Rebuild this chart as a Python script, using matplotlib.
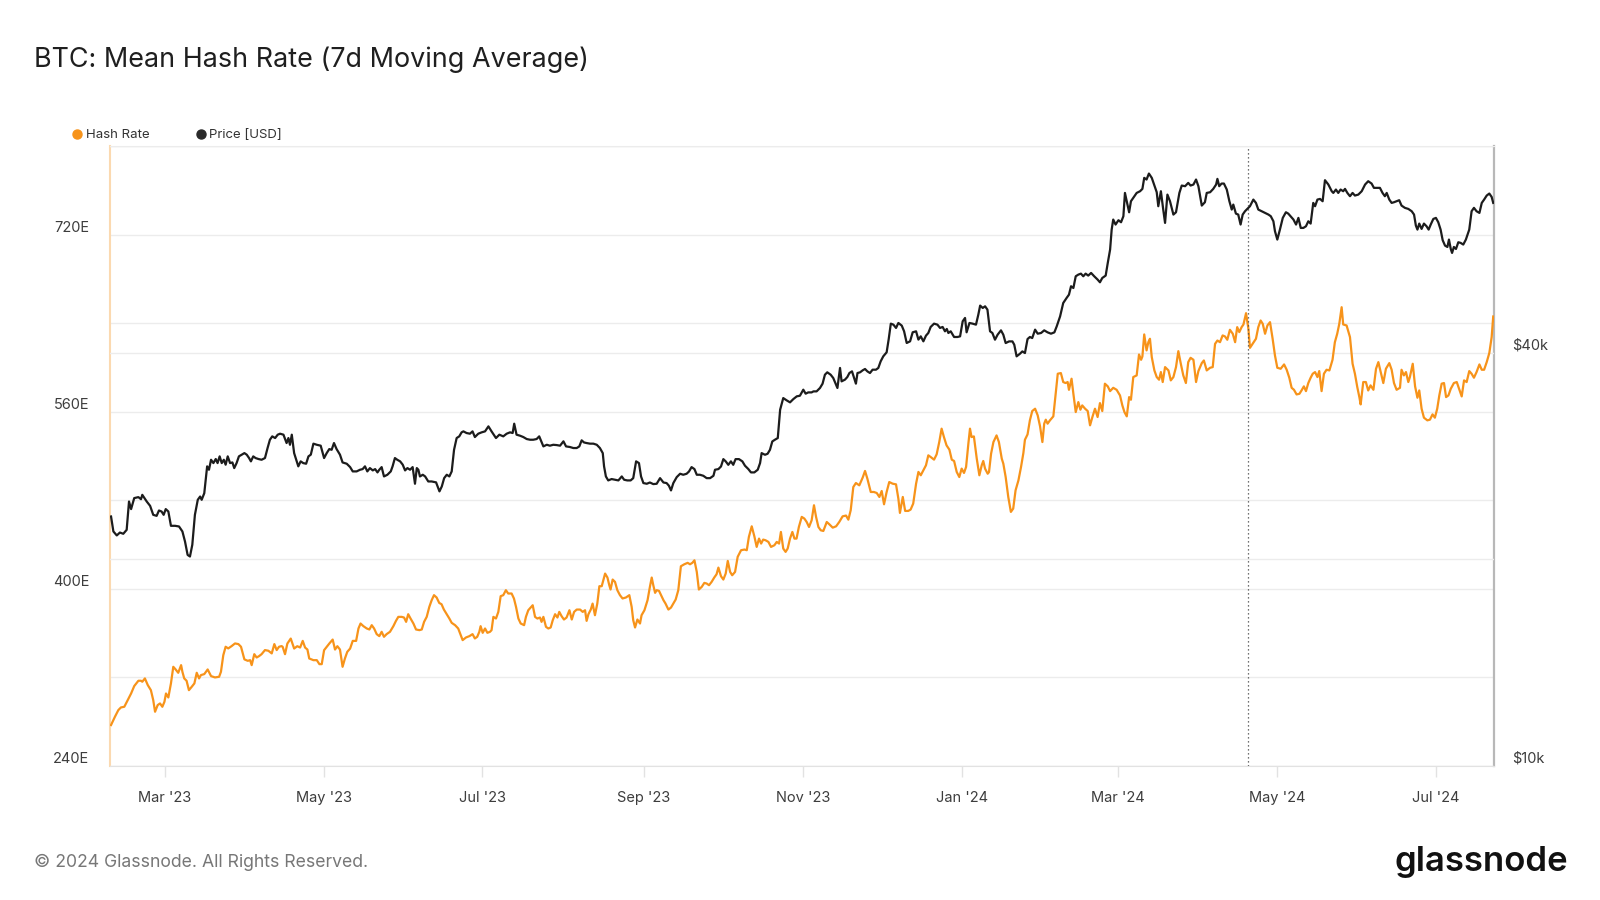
import matplotlib
matplotlib.use("Agg")
import matplotlib.pyplot as plt
from matplotlib.lines import Line2D
import pandas as pd
import numpy as np

plt.rcParams['font.family'] = ['Inter', 'DejaVu Sans']

# ---------------- data ----------------
start_date = pd.Timestamp('2023-02-08')
end_offset = 531.4          # days shown after start_date
halving_date = '2024-04-20'

# Hash rate, 7d MA (EH/s) : day offset from start_date, value
hash_day = [
    0.4, 1.9, 3.2, 4.2, 5.5, 6.8, 8.1, 9.3, 10.9, 11.9, 12.4, 13.4, 14.5, 15.7, 16.6, 17.3, 18.3, 19.2, 20.1, 20.9,
    21.5, 22.4, 23.4, 24.3, 25.2, 26.2, 27.3, 27.8, 28.5, 29.4, 30.3, 31.4, 32.4, 33.3, 34.2, 34.9, 36.2, 37.5, 38.8, 40.3,
    41.9, 42.6, 43.5, 44.4, 45.4, 46.7, 48.0, 49.3, 50.3, 51.6, 52.9, 53.8, 54.4, 55.4, 56.3, 57.2, 58.2, 59.5, 60.8, 62.1,
    63.1, 64.0, 64.9, 65.9, 66.3, 67.2, 68.1, 69.4, 70.7, 71.9, 73.0, 74.0, 74.9, 75.8, 76.5, 78.1, 79.4, 80.4, 81.3, 82.2,
    83.2, 84.2, 85.5, 86.4, 87.3, 88.3, 89.3, 90.2, 91.1, 92.2, 93.2, 94.5, 95.4, 96.2, 97.3, 98.6, 99.6, 100.5, 101.4, 102.4,
    103.4, 104.3, 105.2, 106.2, 107.5, 108.8, 109.8, 110.7, 112.0, 112.9, 113.7, 114.5, 115.4, 116.5, 117.5, 118.8, 119.7, 120.6, 121.6, 122.6,
    123.5, 124.4, 125.4, 126.4, 127.3, 128.2, 129.3, 130.3, 131.2, 132.5, 133.7, 135.4, 136.7, 138.0, 139.2, 140.1, 141.0, 141.8, 142.3, 143.1,
    144.0, 144.9, 145.9, 146.5, 147.2, 148.2, 149.1, 150.0, 151.0, 152.0, 152.9, 154.2, 155.1, 155.9, 156.8, 157.7, 159.0, 159.7, 160.6, 161.5,
    162.3, 163.2, 164.1, 165.1, 165.7, 166.4, 167.4, 168.3, 169.2, 170.0, 170.9, 171.8, 172.5, 173.4, 174.3, 175.3, 176.4, 177.3, 178.2, 179.2,
    180.5, 181.5, 182.4, 183.0, 183.7, 184.6, 185.3, 186.2, 187.1, 187.9, 188.8, 189.4, 190.1, 191.0, 191.7, 192.2, 193.0, 193.9, 194.8, 195.8,
    196.8, 198.1, 199.4, 200.3, 200.9, 201.6, 202.5, 203.5, 204.1, 205.2, 206.4, 207.3, 208.0, 208.6, 209.3, 209.9, 210.8, 211.6, 212.5, 213.3,
    214.4, 215.4, 216.3, 217.2, 218.2, 219.2, 220.5, 221.8, 222.7, 223.6, 224.4, 225.3, 226.1, 227.2, 228.2, 229.1, 230.0, 231.0, 232.0, 232.9,
    233.6, 234.6, 235.5, 236.4, 237.2, 238.1, 238.9, 240.0, 241.0, 242.3, 243.6, 244.5, 245.3, 246.4, 247.4, 248.3, 249.2, 250.0, 250.8, 251.7,
    252.8, 253.8, 255.1, 256.0, 256.9, 257.6, 258.5, 259.4, 260.2, 261.1, 262.0, 262.8, 263.6, 264.5, 265.6, 266.6, 267.5, 268.4, 269.4, 270.3,
    271.1, 272.0, 272.9, 273.9, 275.2, 276.2, 277.5, 278.8, 280.0, 281.3, 282.6, 283.5, 284.4, 285.4, 286.4, 287.7, 289.0, 289.9, 290.8, 292.1,
    293.3, 294.4, 295.4, 296.3, 297.2, 298.2, 299.2, 300.5, 301.8, 302.7, 303.3, 304.4, 305.3, 306.5, 307.4, 308.4, 309.5, 310.4, 311.3, 312.3,
    313.3, 314.2, 315.1, 316.4, 317.4, 318.4, 319.3, 320.2, 321.2, 322.3, 323.2, 324.1, 325.1, 326.1, 327.0, 327.9, 328.7, 329.6, 330.2, 330.8,
    331.7, 332.8, 333.8, 334.7, 335.3, 336.0, 337.0, 337.5, 338.3, 339.2, 340.4, 341.3, 342.4, 343.0, 343.9, 344.9, 345.9, 346.8, 347.7, 348.8,
    349.8, 350.7, 351.3, 352.3, 353.2, 354.1, 355.2, 356.2, 357.1, 358.0, 358.7, 359.3, 360.0, 360.9, 362.2, 363.1, 363.9, 365.1, 366.0, 366.9,
    367.7, 368.2, 369.2, 369.9, 370.8, 371.8, 372.6, 373.3, 374.4, 375.4, 376.3, 377.2, 378.2, 379.2, 380.1, 381.0, 382.0, 383.1, 384.0, 385.2,
    386.5, 387.8, 388.7, 389.5, 390.4, 391.3, 392.0, 392.9, 394.2, 395.1, 395.9, 396.4, 397.1, 398.0, 398.7, 399.3, 400.0, 401.0, 401.9, 402.8,
    403.5, 404.2, 405.1, 406.4, 407.3, 408.3, 409.3, 410.2, 411.1, 412.1, 413.1, 414.0, 414.9, 416.0, 417.0, 417.9, 419.2, 420.0, 421.1, 422.4,
    423.4, 424.3, 425.2, 426.2, 427.2, 428.1, 429.0, 430.0, 431.1, 432.0, 432.8, 433.6, 434.5, 435.2, 436.2, 437.1, 437.7, 438.7, 440.0, 440.9,
    441.8, 442.6, 443.5, 444.4, 445.4, 446.4, 447.3, 448.2, 449.5, 450.8, 451.8, 452.8, 453.7, 454.6, 455.6, 456.7, 457.5, 458.4, 459.2, 460.1,
    461.0, 461.8, 462.7, 463.6, 464.3, 465.2, 466.1, 467.1, 468.2, 469.4, 470.3, 471.2, 472.0, 472.9, 473.5, 474.8, 476.1, 477.1, 478.0, 478.9,
    479.7, 480.2, 481.2, 482.2, 483.1, 484.0, 485.1, 486.1, 487.0, 487.9, 488.9, 489.9, 491.2, 492.1, 493.0, 494.0, 495.3, 495.9, 496.8, 497.6,
    498.5, 499.1, 500.2, 501.1, 502.0, 502.7, 503.6, 504.5, 505.8, 506.8, 507.8, 508.7, 509.6, 510.4, 511.3, 512.2, 513.0, 513.9, 514.8, 516.0,
    517.1, 518.1, 519.0, 519.9, 520.9, 521.9, 522.8, 523.7, 524.7, 525.8, 526.7, 527.6, 528.6, 529.6, 530.5, 531.1,
]
hash_ehs = [
    277.0, 284.5, 290.5, 292.9, 293.5, 299.5, 305.5, 312.2, 317.0, 317.0, 316.1, 319.1, 313.1, 308.5, 299.5, 289.0, 295.0, 296.5, 293.5, 298.0,
    305.5, 301.9, 314.6, 329.6, 327.2, 324.2, 331.1, 325.1, 319.1, 317.0, 308.5, 311.6, 314.6, 324.2, 319.1, 322.1, 323.0, 327.2, 321.2, 320.0,
    320.6, 325.1, 340.1, 347.7, 346.2, 348.3, 350.7, 350.1, 347.7, 336.3, 335.0, 335.6, 331.1, 341.0, 338.0, 339.2, 341.0, 344.7, 344.1, 341.7,
    350.1, 344.7, 347.7, 348.3, 347.6, 341.0, 350.6, 355.1, 346.1, 348.2, 347.0, 353.0, 347.0, 345.2, 337.1, 335.6, 335.6, 332.0, 332.0, 344.6,
    347.6, 350.6, 354.2, 345.2, 348.2, 345.2, 329.6, 337.1, 343.1, 346.1, 353.0, 353.0, 364.2, 368.7, 366.3, 364.2, 363.3, 367.2, 364.2, 359.1,
    357.3, 361.2, 356.7, 359.1, 361.2, 366.3, 371.1, 374.7, 374.7, 374.1, 370.2, 377.1, 373.2, 368.7, 363.3, 362.7, 363.3, 370.2, 374.7, 383.7,
    389.7, 394.3, 392.2, 387.3, 386.1, 381.3, 377.1, 373.2, 369.3, 367.2, 364.2, 353.7, 356.1, 357.3, 359.1, 355.2, 356.7, 361.2, 366.3, 360.3,
    364.2, 360.3, 361.2, 362.7, 374.7, 373.2, 379.2, 393.4, 394.3, 398.8, 395.8, 395.8, 391.3, 383.7, 373.2, 368.7, 367.2, 374.7, 380.7, 383.1,
    385.2, 374.7, 373.2, 374.1, 370.2, 374.7, 365.7, 364.2, 365.1, 371.7, 377.1, 374.1, 379.2, 375.3, 372.3, 374.1, 380.7, 372.3, 379.2, 381.3,
    381.3, 379.2, 380.7, 371.1, 377.1, 381.3, 386.7, 376.2, 386.7, 402.4, 402.4, 407.8, 413.8, 410.2, 403.3, 399.4, 408.4, 406.3, 398.8, 394.3,
    391.3, 392.2, 394.3, 383.7, 371.7, 365.1, 372.3, 368.7, 376.2, 380.7, 389.8, 401.8, 410.2, 403.3, 396.4, 398.8, 398.2, 394.3, 389.8, 386.7,
    381.3, 383.1, 386.7, 390.4, 398.8, 420.4, 422.2, 423.5, 422.2, 423.5, 425.8, 415.3, 399.4, 401.8, 405.4, 404.8, 403.3, 406.3, 410.2, 413.2,
    419.2, 411.4, 408.4, 413.8, 425.2, 415.3, 412.3, 415.3, 428.9, 434.9, 435.5, 434.9, 446.9, 456.5, 447.5, 437.9, 445.4, 440.9, 444.5, 443.9,
    442.4, 437.9, 439.4, 442.4, 440.9, 451.4, 436.4, 433.4, 436.4, 445.4, 451.4, 445.4, 445.4, 455.9, 465.0, 463.5, 460.4, 455.9, 461.9, 475.5,
    465.0, 455.9, 452.9, 452.3, 460.4, 458.3, 455.3, 456.5, 460.4, 465.5, 466.2, 462.5, 471.0, 492.0, 495.6, 493.5, 500.5, 506.5, 499.5, 487.5,
    487.5, 486.6, 483.0, 488.4, 476.4, 487.5, 496.5, 495.0, 494.4, 481.5, 468.6, 483.0, 470.4, 470.4, 471.6, 477.0, 495.0, 505.6, 502.6, 507.1,
    511.6, 520.6, 519.1, 516.7, 521.5, 532.6, 544.7, 537.1, 529.6, 525.7, 516.7, 515.5, 505.6, 501.0, 508.6, 504.7, 510.1, 531.7, 544.7, 537.1,
    537.7, 517.6, 502.6, 511.6, 515.5, 508.5, 504.0, 505.5, 522.1, 532.6, 538.6, 532.6, 517.6, 513.1, 501.0, 483.0, 469.5, 472.5, 489.0, 498.0,
    510.1, 522.7, 534.7, 539.5, 552.2, 560.6, 562.7, 556.7, 546.8, 532.6, 549.2, 552.8, 549.2, 552.2, 555.8, 576.2, 594.3, 594.9, 586.8, 585.9,
    586.8, 579.8, 589.8, 576.2, 559.7, 568.7, 561.8, 565.7, 562.7, 560.6, 547.7, 555.2, 562.7, 555.2, 567.8, 560.6, 585.3, 582.9, 578.6, 581.6,
    579.8, 574.7, 565.7, 559.7, 555.8, 573.2, 570.8, 591.3, 592.8, 611.7, 606.9, 609.9, 629.8, 615.4, 622.9, 625.9, 609.3, 597.3, 591.3, 588.9,
    595.8, 586.8, 600.3, 597.3, 588.3, 591.3, 600.3, 614.7, 603.9, 592.8, 585.9, 604.8, 608.7, 606.9, 586.8, 596.7, 603.9, 606.3, 597.3, 599.7,
    600.3, 621.3, 624.3, 622.8, 628.9, 628.0, 625.0, 634.0, 630.4, 622.8, 636.4, 631.9, 636.4, 638.8, 649.0, 634.9, 617.7, 621.3, 625.9, 636.4,
    642.4, 639.4, 630.4, 637.9, 640.9, 625.9, 610.8, 599.7, 598.8, 602.7, 597.9, 590.7, 581.6, 579.8, 575.6, 576.2, 579.2, 582.9, 578.6, 585.9,
    590.7, 594.3, 595.8, 591.3, 596.7, 578.6, 594.3, 597.9, 597.3, 606.9, 622.8, 630.4, 639.4, 654.4, 638.8, 637.9, 627.4, 603.3, 594.3, 582.3,
    573.2, 566.6, 586.8, 586.8, 579.2, 583.8, 579.8, 598.8, 604.8, 595.8, 585.9, 598.8, 603.9, 597.9, 585.9, 579.8, 581.6, 597.9, 592.8, 595.8,
    586.8, 591.3, 603.3, 582.9, 572.6, 579.2, 562.7, 554.6, 552.2, 552.8, 557.6, 554.6, 562.7, 574.7, 585.3, 585.9, 573.2, 574.7, 580.7, 585.9,
    586.8, 579.8, 573.8, 588.3, 586.8, 596.7, 594.3, 590.7, 595.8, 602.7, 597.9, 597.9, 604.8, 613.0, 627.4, 646.0,
]

# BTC price (USD) : day offset from start_date, value
price_day = [
    0.4, 1.3, 2.6, 3.8, 5.1, 6.4, 7.3, 8.1, 9.3, 10.9, 11.9, 12.4, 14.1, 15.4, 16.6, 17.9, 18.8, 19.8, 20.6, 21.4,
    22.4, 23.4, 25.0, 26.5, 27.8, 28.8, 29.8, 30.7, 31.6, 32.6, 33.7, 34.6, 35.2, 36.2, 37.3, 38.0, 38.8, 39.7, 40.6, 41.3,
    42.1, 42.9, 43.7, 44.4, 45.2, 46.1, 47.0, 47.7, 48.6, 49.5, 50.6, 51.6, 52.5, 53.4, 54.1, 55.0, 55.9, 57.0, 58.2, 59.5,
    60.5, 61.4, 62.3, 63.4, 64.4, 65.3, 66.6, 67.8, 68.5, 69.1, 69.8, 70.7, 72.3, 73.2, 74.2, 75.3, 76.2, 77.1, 78.1, 79.4,
    80.9, 82.2, 83.2, 84.2, 85.1, 86.0, 87.0, 88.3, 89.3, 90.9, 92.2, 93.2, 94.7, 96.0, 97.0, 97.9, 98.8, 99.8, 100.9, 101.8,
    102.7, 103.4, 104.3, 105.2, 106.5, 107.8, 108.5, 109.4, 110.3, 111.4, 112.4, 113.3, 114.2, 115.2, 116.2, 117.1, 117.8, 118.4, 119.0, 120.1,
    121.0, 122.2, 123.5, 125.2, 126.5, 127.4, 128.3, 129.3, 130.3, 131.2, 132.1, 133.1, 134.1, 135.0, 135.7, 136.9, 138.2, 139.2, 140.1, 141.4,
    142.7, 144.0, 145.3, 146.5, 148.2, 149.5, 151.0, 152.3, 153.6, 154.6, 155.2, 156.1, 157.4, 158.7, 160.0, 161.3, 162.5, 163.8, 164.8, 165.6,
    166.4, 167.7, 168.9, 170.2, 171.5, 172.8, 174.1, 175.1, 176.6, 177.9, 179.2, 180.2, 181.1, 182.0, 183.0, 184.3, 185.6, 186.9, 188.1, 189.2,
    189.7, 190.4, 191.3, 192.6, 193.9, 195.2, 196.5, 197.4, 198.6, 199.9, 200.9, 202.0, 203.1, 203.9, 204.8, 206.1, 207.3, 208.6, 209.9, 211.2,
    212.5, 213.7, 214.6, 215.4, 216.3, 217.6, 218.9, 220.1, 221.4, 222.3, 223.3, 224.4, 225.3, 226.5, 227.8, 229.1, 230.4, 231.7, 232.3, 233.6,
    234.6, 235.5, 236.4, 237.4, 238.4, 239.3, 240.2, 241.5, 242.8, 243.8, 245.1, 246.1, 247.4, 248.7, 249.6, 250.2, 251.5, 252.5, 253.4, 254.3,
    255.3, 256.4, 257.3, 258.5, 259.8, 261.1, 262.4, 263.7, 264.9, 266.2, 267.1, 268.1, 269.4, 270.1, 271.3, 272.6, 273.6, 274.5, 275.4, 276.7,
    277.7, 278.8, 279.3, 280.3, 280.9, 282.2, 283.1, 283.9, 284.9, 285.7, 286.4, 287.0, 288.0, 289.0, 289.9, 290.8, 291.8, 292.8, 294.1, 295.0,
    295.9, 296.9, 298.2, 299.0, 299.8, 300.8, 301.8, 302.7, 304.0, 304.9, 305.9, 307.2, 308.2, 309.5, 310.4, 311.3, 312.3, 313.3, 314.2, 315.1,
    316.4, 317.7, 318.7, 319.7, 320.6, 321.3, 321.9, 322.8, 324.1, 325.4, 326.4, 327.4, 328.3, 328.9, 330.0, 331.2, 332.5, 333.4, 334.1, 335.1,
    336.0, 336.9, 337.9, 338.8, 339.8, 340.8, 342.1, 343.0, 343.9, 345.2, 346.5, 347.2, 348.1, 349.4, 350.3, 351.3, 352.3, 353.2, 354.1, 355.2,
    356.2, 357.5, 358.7, 360.0, 361.3, 362.6, 363.5, 364.8, 366.0, 367.3, 368.2, 369.0, 369.9, 370.8, 371.8, 372.8, 373.7, 374.6, 375.6, 376.7,
    377.9, 379.2, 380.1, 381.0, 382.3, 383.1, 384.0, 384.6, 385.2, 386.1, 387.2, 388.2, 389.1, 389.7, 390.4, 391.3, 392.0, 392.9, 394.2, 395.5,
    396.4, 397.1, 398.0, 398.9, 400.0, 401.0, 401.9, 402.5, 403.5, 404.4, 405.1, 406.0, 407.0, 408.3, 409.3, 410.6, 411.5, 412.8, 414.0, 414.9,
    416.0, 417.0, 417.9, 419.2, 420.4, 421.1, 422.4, 423.6, 424.7, 425.2, 425.9, 426.8, 427.7, 428.8, 429.8, 430.7, 431.3, 432.3, 433.2, 434.1,
    434.9, 435.8, 436.7, 437.7, 439.0, 440.0, 440.9, 442.2, 443.5, 444.8, 445.7, 446.7, 447.3, 448.2, 449.2, 450.3, 451.5, 452.4, 453.3, 454.4,
    455.4, 456.3, 457.2, 458.2, 459.2, 460.1, 461.0, 462.0, 462.7, 463.6, 464.6, 465.6, 466.5, 467.8, 469.1, 469.7, 470.7, 471.6, 472.5, 473.5,
    474.2, 475.1, 476.1, 477.1, 478.0, 479.3, 480.6, 481.9, 483.1, 484.4, 485.3, 486.3, 487.6, 488.6, 489.5, 490.2, 491.2, 492.1, 493.0, 494.0,
    495.0, 495.9, 497.2, 498.5, 499.8, 500.7, 501.4, 502.0, 502.7, 503.6, 504.5, 505.5, 506.3, 507.1, 508.1, 509.1, 510.0, 510.9, 511.7, 512.6,
    513.5, 514.1, 514.8, 515.3, 516.0, 516.8, 517.7, 518.6, 519.6, 520.6, 521.9, 522.8, 523.7, 524.7, 525.8, 526.7, 527.6, 528.6, 529.6, 530.5,
    531.1,
]
price_usd = [
    23090, 21960, 21670, 21880, 21790, 22080, 24280, 23670, 24560, 24640, 24470, 24830, 24280, 23930, 23220, 23140, 23560, 23480, 23220, 23670,
    23480, 22380, 22380, 22330, 21960, 21230, 20300, 20190, 21000, 23220, 24420, 24690, 24420, 24970, 27320, 27010, 27930, 27620, 28000, 27620,
    28250, 27620, 27930, 27470, 28250, 27620, 27680, 27160, 27620, 28250, 28410, 28560, 28410, 28090, 27780, 28250, 28090, 28000, 27930, 28090,
    29050, 29870, 30210, 30040, 30380, 30480, 30380, 29540, 30040, 29370, 30380, 28560, 27320, 27780, 27620, 27560, 28250, 28410, 29480, 29370,
    29280, 28090, 28560, 28950, 28880, 29540, 28950, 28410, 27680, 27560, 27250, 26860, 26860, 27010, 27070, 27320, 26860, 27160, 26950, 27070,
    26770, 27010, 27250, 26410, 26560, 26860, 27320, 28090, 27930, 27780, 27470, 26950, 27160, 27010, 27250, 25770, 27160, 27010, 26410, 26560,
    26410, 25970, 25970, 25890, 25120, 25540, 26260, 26560, 26410, 26860, 28880, 30040, 30210, 30620, 30720, 30550, 30480, 30720, 30140, 30480,
    30620, 30720, 31240, 30720, 30040, 30380, 30210, 30480, 30620, 30550, 31520, 30380, 30280, 30140, 29940, 29870, 29870, 29940, 30210, 29710,
    29210, 29370, 29280, 29370, 29340, 29280, 29710, 29210, 29150, 29050, 29050, 29210, 29810, 29600, 29540, 29480, 29480, 29370, 29050, 28560,
    27320, 26410, 26060, 26180, 26120, 26060, 26410, 26120, 26060, 26060, 26260, 27780, 27620, 26410, 25830, 25770, 25880, 25740, 25770, 26260,
    25880, 25830, 25600, 25200, 25830, 26350, 26650, 26560, 26650, 26850, 27250, 27070, 26560, 26560, 26470, 26260, 26260, 26470, 27010, 27070,
    27310, 27990, 27780, 27460, 27780, 27460, 27990, 27990, 27780, 27380, 27070, 26770, 26770, 27010, 27620, 28560, 28400, 28500, 28880, 29700,
    29870, 30040, 33030, 34350, 34090, 33860, 34240, 34550, 34620, 35330, 34860, 35010, 35010, 35130, 35130, 35530, 36050, 37150, 37450, 37150,
    36740, 35920, 35530, 38000, 36330, 36540, 36860, 37360, 37570, 36740, 36050, 37360, 37450, 37700, 37870, 37570, 37360, 37780, 37780, 38000,
    38850, 39510, 40050, 41880, 44090, 43940, 43460, 44190, 43800, 42970, 41320, 41550, 42830, 42970, 41790, 42250, 41550, 42350, 42730, 43600,
    44090, 43940, 43460, 43600, 42970, 43310, 42730, 42970, 42160, 42160, 42250, 44440, 44940, 42830, 44190, 44090, 43940, 45440, 46840, 46470,
    46730, 46210, 42970, 42730, 41780, 42480, 43110, 42480, 41310, 41540, 41540, 41080, 39510, 39860, 40170, 39950, 41870, 42160, 42010, 43210,
    42630, 42730, 43110, 42820, 42630, 42820, 43690, 45180, 47250, 48060, 48590, 49980, 49690, 51680, 51970, 52140, 51680, 52140, 51800, 52260,
    51680, 51110, 50650, 51390, 51800, 54040, 56520, 60440, 62510, 61470, 62370, 61950, 63210, 68350, 66470, 64060, 66470, 67220, 68350, 68740,
    69280, 71890, 71490, 72940, 71890, 70060, 68510, 65370, 68740, 64640, 61810, 67970, 66470, 63560, 64060, 68350, 70060, 69910, 70690, 70060,
    70300, 71490, 69910, 65510, 66250, 68350, 68510, 69280, 70300, 71650, 69910, 70530, 70530, 69130, 66470, 64640, 65730, 63770, 63560, 61470,
    63560, 64280, 64780, 65370, 66840, 66100, 64640, 64280, 63920, 63560, 63210, 62150, 60110, 58450, 60440, 62860, 64060, 63770, 63210, 62510,
    61470, 62860, 60780, 60780, 61120, 62150, 61670, 66100, 65370, 66840, 66990, 66470, 71330, 70300, 68740, 68350, 69130, 68350, 69130, 68740,
    69280, 68350, 67600, 68350, 67750, 67970, 68740, 70300, 71090, 70530, 69520, 69520, 69520, 68350, 67600, 68350, 66840, 66100, 66250, 66470,
    66700, 65510, 65010, 64780, 64280, 63560, 61260, 60440, 61670, 60580, 61670, 61120, 60440, 61470, 62640, 62860, 61950, 60440, 58320, 57280,
    57020, 58450, 56640, 55890, 57020, 56640, 57930, 57800, 57480, 58450, 60440, 64280, 65010, 64280, 63920, 66100, 66840, 67750, 68210, 67440,
    66100,
]

# axes ticks / labels
x_tick_dates = ['2023-03-01', '2023-05-01', '2023-07-01', '2023-09-01', '2023-11-01',
                '2024-01-01', '2024-03-01', '2024-05-01', '2024-07-01']
x_tick_labels = ["Mar '23", "May '23", "Jul '23", "Sep '23", "Nov '23",
                 "Jan '24", "Mar '24", "May '24", "Jul '24"]
hash_ticks = [240, 320, 400, 480, 560, 640, 720, 800]
hash_tick_labels = ['240E', '', '400E', '', '560E', '', '720E', '']
price_ticks = [10000, 20000, 40000, 80000]
price_tick_labels = ['$10k', '', '$40k', '']

# ---------------- figure ----------------
W, H = 1600, 900
fig = plt.figure(figsize=(16, 9), dpi=100)
fig.patch.set_facecolor('white')

L, R, T, B = 110, 1494, 146, 766
rect = [L / W, 1 - B / H, (R - L) / W, (B - T) / H]

axg = fig.add_axes(rect)
axp = axg.twinx()
axh = axg.twinx()

hash_dates = start_date + pd.to_timedelta(np.array(hash_day), unit='D')
price_dates = start_date + pd.to_timedelta(np.array(price_day), unit='D')
xmin = start_date
xmax = start_date + pd.to_timedelta(end_offset, unit='D')

ORANGE = '#f7931a'
BLACK = '#1c1c1c'
GRID = '#ececec'
TICKC = '#3d3d3d'

# base axes: left scale and grid
axg.set_xlim(xmin, xmax)
axg.set_ylim(240, 800)
axg.set_yticks(hash_ticks)
axg.set_yticklabels(hash_tick_labels)
axg.yaxis.grid(True, color=GRID, lw=1.0)
axg.set_axisbelow(True)
axg.tick_params(axis='y', length=0, pad=15, labelsize=10.5, labelcolor=TICKC)
for lab in axg.get_yticklabels():
    lab.set_va('bottom')
axg.set_xticks(pd.to_datetime(x_tick_dates))
axg.set_xticklabels(x_tick_labels)
axg.tick_params(axis='x', length=8, width=1, color='#e2e2e2', pad=10,
                labelsize=10.5, labelcolor=TICKC)
axg.spines['left'].set_color('#fbd9b0')
axg.spines['left'].set_linewidth(1.5)
axg.spines['right'].set_color('#b8b8b8')
axg.spines['right'].set_linewidth(1.6)
axg.spines['top'].set_color('#eeeeee')
axg.spines['bottom'].set_color('#e2e2e2')

# price axis (log, right)
axp.set_yscale('log')
axp.set_ylim(10000, 80000)
axp.set_yticks(price_ticks)
axp.set_yticklabels(price_tick_labels)
axp.yaxis.set_minor_locator(matplotlib.ticker.NullLocator())
axp.yaxis.grid(True, color=GRID, lw=1.0)
axp.set_axisbelow(True)
axp.tick_params(axis='y', length=0, pad=13, labelsize=10.5, labelcolor=TICKC)
for lab in axp.get_yticklabels():
    lab.set_va('bottom')
for s in axp.spines.values():
    s.set_visible(False)
axp.plot(price_dates, price_usd, color=BLACK, lw=1.6, solid_joinstyle='round')

# hash axis (same scale as left, hidden)
axh.set_ylim(240, 800)
axh.set_yticks([])
for s in axh.spines.values():
    s.set_visible(False)
axh.plot(hash_dates, hash_ehs, color=ORANGE, lw=1.6, solid_joinstyle='round')
axh.axvline(pd.Timestamp(halving_date), color='#444444', lw=0.9, ls=(0, (1, 2.2)))
axh.set_xlim(xmin, xmax)

# title
fig.text(34 / W, 1 - 60 / H, 'BTC: Mean Hash Rate (7d Moving Average)',
         fontsize=19.4, color='#1f1f1f', va='center', ha='left')

# legend
handles = [Line2D([], [], marker='o', ls='', color=ORANGE, markersize=6.5),
           Line2D([], [], marker='o', ls='', color='#2a2a2a', markersize=6.5)]
fig.legend(handles, ['Hash Rate', 'Price [USD]'], loc='center left',
           bbox_to_anchor=(64 / W, 1 - 135 / H), ncol=2, frameon=False,
           fontsize=9.5, handletextpad=0.05, columnspacing=3.3,
           labelcolor='#333333', borderaxespad=0, handlelength=1.2)

# footer
fig.text(34 / W, 1 - 862 / H, '\u00a9 2024 Glassnode. All Rights Reserved.',
         fontsize=12.7, color='#777777', va='center', ha='left')
fig.text(1568 / W, 1 - 862 / H, 'glassnode', fontsize=25, color='#111111',
         va='center', ha='right', fontweight='semibold')

fig.savefig('out.png', dpi=100, facecolor='white')
